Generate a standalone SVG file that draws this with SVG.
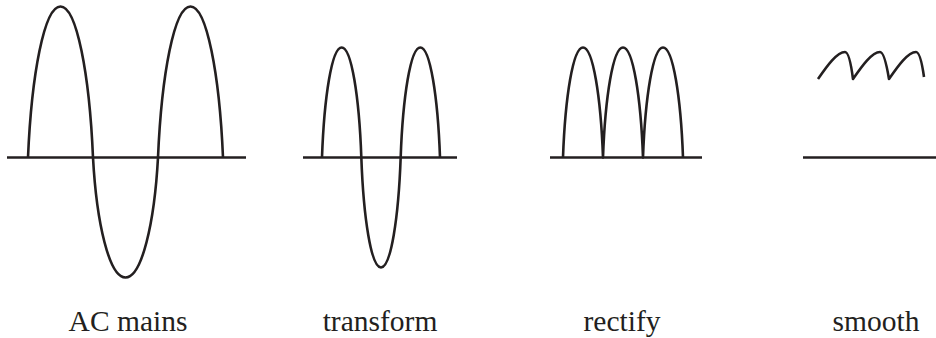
<svg xmlns="http://www.w3.org/2000/svg" width="936" height="338" viewBox="0 0 936 338">
<style>
.ln{fill:none;stroke:#231f20;stroke-width:2.6;stroke-linecap:butt;stroke-linejoin:round}
.lbl{font-size:29.5px;fill:#231f20;text-anchor:middle}
</style>
<rect width="936" height="338" fill="#ffffff"/>
<g id="ac-mains">
<line class="ln" x1="7" y1="157.5" x2="246" y2="157.5"/>
<path class="ln" d="M28,157.5 C31.58,74.45 44.25,6.5 60.5,6.5 C76.75,6.5 89.43,74.45 93,157.5 C96.58,223.5 109.25,277.5 125.5,277.5 C141.75,277.5 154.43,223.5 158,157.5 C161.58,74.45 174.25,6.5 190.5,6.5 C206.75,6.5 219.43,74.45 223,157.5"/>
<text class="lbl" font-family="'Liberation Serif', 'DejaVu Serif', serif" x="128" y="331">AC mains</text>
</g>
<g id="transform">
<line class="ln" x1="303" y1="157.5" x2="457" y2="157.5"/>
<path class="ln" d="M322,157.5 C324.16,97 331.84,47.5 341.67,47.5 C351.5,47.5 359.17,97 361.33,157.5 C363.49,218 371.17,267.5 381,267.5 C390.83,267.5 398.51,218 400.67,157.5 C402.83,97 410.5,47.5 420.33,47.5 C430.16,47.5 437.84,97 440,157.5"/>
<text class="lbl" font-family="'Liberation Serif', 'DejaVu Serif', serif" x="380" y="331">transform</text>
</g>
<g id="rectify">
<line class="ln" x1="550" y1="157.5" x2="702" y2="157.5"/>
<path class="ln" d="M563,157.5 C565.2,97 573,47.5 583,47.5 C593,47.5 600.8,97 603,157.5 C605.2,97 613,47.5 623,47.5 C633,47.5 640.8,97 643,157.5 C645.2,97 653,47.5 663,47.5 C673,47.5 680.8,97 683,157.5"/>
<text class="lbl" font-family="'Liberation Serif', 'DejaVu Serif', serif" x="622" y="331">rectify</text>
</g>
<g id="smooth">
<line class="ln" x1="803" y1="157.5" x2="936" y2="157.5"/>
<path class="ln" d="M818,79 C827,66 837,52 845,52 Q849.5,52 853,79 C862,66 872,52 880,52 Q884.5,52 889,79 C898,66 908,52 916,52 Q920.5,52 924,77"/>
<text class="lbl" font-family="'Liberation Serif', 'DejaVu Serif', serif" x="876" y="331">smooth</text>
</g>
<g id="connectors"></g>
</svg>
